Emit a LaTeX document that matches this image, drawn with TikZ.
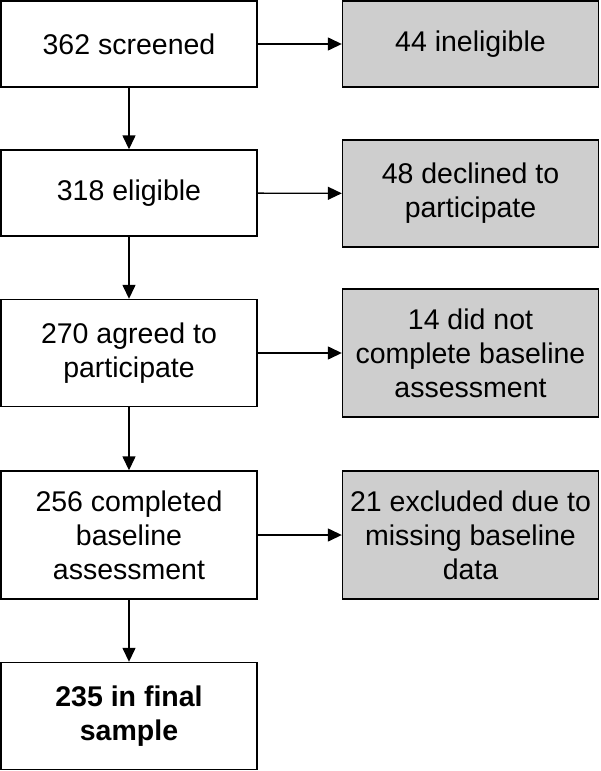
\documentclass[tikz,border=0pt]{standalone}
\usepackage{fontspec}
\setmainfont{Liberation Sans}
\usetikzlibrary{arrows.meta}
\definecolor{exclgray}{RGB}{206,206,206}
\begin{document}
\begin{tikzpicture}[x=1pt,y=-1pt,
  box/.style={draw,line width=1.4pt,minimum width=256pt,inner sep=0pt,align=center,font=\fontsize{28.5}{34}\selectfont},
  excl/.style={box,fill=exclgray},
  arr/.style={line width=1.4pt,-{Triangle[length=14pt,width=13pt]}}]
\useasboundingbox (0,0) rectangle (600,771);
% main flow
\node[box,minimum height=86pt]  (scr) at (129,44)  {362 screened};
\node[box,minimum height=86pt]  (elg) at (129,193) {318 eligible};
\node[box,minimum height=107pt] (agr) at (129,353) {270 agreed to\\participate};
\node[box,minimum height=128pt] (cmp) at (129,535) {256 completed\\baseline\\assessment};
\node[box,minimum height=107pt] (fin) at (129,716) {\bfseries 235 in final\\\bfseries sample};
% exclusions
\node[excl,minimum height=86pt]  (inel) at (470.5,44)    {44 ineligible};
\node[excl,minimum height=107pt] (decl) at (470.5,193.5) {48 declined to\\participate};
\node[excl,minimum height=128pt] (nobl) at (470.5,353)   {14 did not\\complete baseline\\assessment};
\node[excl,minimum height=128pt] (miss) at (470.5,535)   {21 excluded due to\\missing baseline\\data};
\draw[arr] (scr) -- (elg);
\draw[arr] (elg) -- (agr);
\draw[arr] (agr) -- (cmp);
\draw[arr] (cmp) -- (fin);
\draw[arr] (scr) -- (inel);
\draw[arr] (elg) -- (decl);
\draw[arr] (agr) -- (nobl);
\draw[arr] (cmp) -- (miss);
\end{tikzpicture}
\end{document}
